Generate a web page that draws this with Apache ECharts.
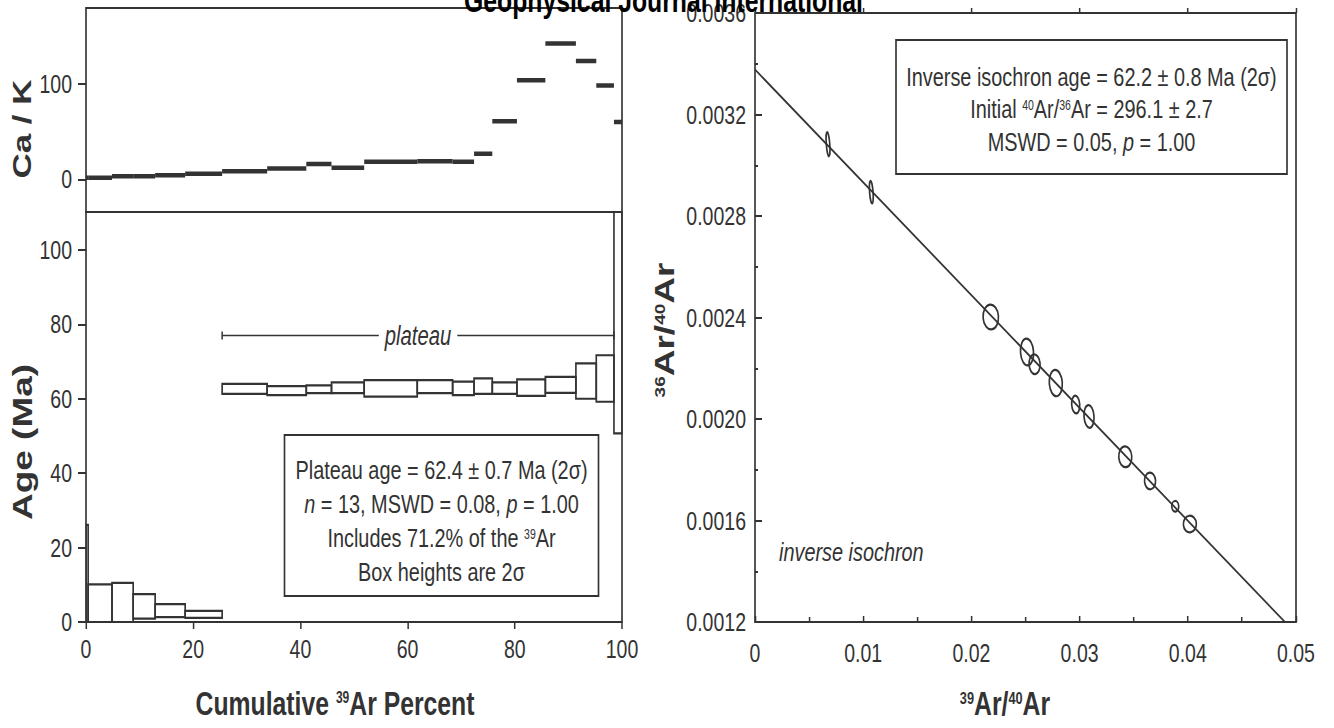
<!DOCTYPE html>
<html>
<head>
<meta charset="utf-8">
<style>
  html, body { margin: 0; padding: 0; background: #fff; overflow: hidden; }
  #main { width: 1778px; height: 728px; transform-origin: 0 0; }
</style>
<script src="https://cdn.jsdelivr.net/npm/echarts@6.0.0/dist/echarts.min.js"></script>
</head>
<body>
<div id="main"></div>
<script>
// step boundaries (cumulative 39Ar %), shared by the Ca/K and the age spectrum
var cumPct = [0, 0.4, 4.85, 8.8, 12.9, 18.5, 25.4, 33.8, 41.1, 45.8, 51.9, 61.8, 68.4, 72.4, 75.8, 80.4, 85.7, 91.4, 95.2, 98.5, 100];
var ageLow = [0, 0, 0, 0.9, 1.3, 1.1, 61.3, 61.0, 61.5, 61.5, 60.6, 61.5, 61.0, 61.3, 61.3, 60.8, 61.6, 60.0, 59.2, 50.7];
var ageHigh = [26.1, 10.1, 10.5, 7.5, 4.8, 3.0, 64.0, 63.4, 63.6, 64.4, 65.0, 65.0, 64.6, 65.5, 64.4, 65.2, 65.9, 69.5, 71.7, 140];
var caK = [1.8, 1.8, 3.4, 3.4, 4.5, 5.9, 8.6, 11.5, 16, 12.2, 18.4, 19, 18.4, 26.7, 60.8, 103.5, 142, 123.6, 98, 60];
var plateauRange = [25.4, 98.5];
var plateauLevel = 77;

var pctTicks = [0, 20, 40, 60, 80, 100];
var ageTicks = [0, 20, 40, 60, 80, 100];
var caTicks = [0, 100];

// inverse isochron points (39/40, 36/40) and ellipse half sizes
var isoX = [0.00675, 0.01075, 0.02179, 0.02514, 0.02584, 0.0278, 0.02964, 0.03087, 0.03422, 0.03651, 0.03884, 0.04019];
var isoY = [0.003083, 0.002894, 0.002402, 0.002264, 0.002216, 0.0021415, 0.002057, 0.00201, 0.001851, 0.001756, 0.001656, 0.001586];
var isoErrX = [0.00016, 0.00016, 0.00071, 0.0006, 0.00051, 0.0006, 0.00037, 0.00046, 0.0006, 0.00051, 0.00032, 0.0006];
var isoErrY = [0.000048, 0.000045, 0.000049, 0.000053, 0.000039, 0.000052, 0.000035, 0.000045, 0.000041, 0.000033, 0.000021, 0.000033];
var isoFit = [[0, 0.003377], [0.04898, 0.0012]];

// the figure is a horizontally squeezed Arial drawing: draw wide, squeeze with css
var K = 1334 / 1778;
function px(x) { return x / K; }
document.getElementById('main').style.transform = 'scaleX(' + K + ')';

var ink = '#333';
var font = "'Liberation Sans', Arial, sans-serif";

var stepData = cumPct.slice(1).map(function (x1, i) { return [cumPct[i], x1, ageLow[i], ageHigh[i]]; });
var caData = cumPct.slice(1).map(function (x1, i) { return [cumPct[i], x1, caK[i]]; });
var isoData = isoX.map(function (x, i) { return [x, isoY[i], isoErrX[i], isoErrY[i]]; });

var chart = echarts.init(document.getElementById('main'), null, { renderer: 'svg' });

var labelStyle = { fontFamily: font, fontSize: 26, color: ink };
var tickStyle = { color: ink, width: 2 };
var frame = { show: true, borderColor: ink, borderWidth: 2.2, backgroundColor: 'transparent' };

var t = { fontFamily: font, fontSize: 26.5, lineHeight: 34, fill: ink };
var it = { fontFamily: font, fontSize: 26.5, lineHeight: 34, fontStyle: 'italic', fill: ink };
var sup = { fontFamily: font, fontSize: 14, lineHeight: 14, verticalAlign: 'top', padding: [6, 0, 0, 0], fill: ink };

function txt(x, y, style, rot) {
  style.align = style.align || 'center';
  style.textAlign = style.align;
  style.verticalAlign = 'middle';
  style.textVerticalAlign = 'middle';
  if (!style.fill) style.fill = ink;
  return { type: 'text', x: px(x), y: y, rotation: rot || 0, z: 100, style: style };
}

var option = {
  animation: false,
  grid: [
    Object.assign({ left: px(86), top: 8, width: px(536), height: 204 }, frame),
    Object.assign({ left: px(86), top: 212, width: px(536), height: 410 }, frame),
    Object.assign({ left: px(755), top: 8, width: px(541), height: 614 }, frame)
  ],
  xAxis: [
    { gridIndex: 0, type: 'value', min: 0, max: 100, axisLine: { show: false }, axisTick: { show: false }, axisLabel: { show: false }, splitLine: { show: false } },
    { gridIndex: 1, type: 'value', min: 0, max: 100, axisLine: { show: false },
      axisTick: { customValues: pctTicks, length: 7, lineStyle: tickStyle },
      axisLabel: Object.assign({ customValues: pctTicks, margin: 14 }, labelStyle),
      splitLine: { show: false } },
    { gridIndex: 2, type: 'value', min: 0, max: 0.05, interval: 0.01, axisLine: { show: false },
      axisTick: { inside: true, length: 6, lineStyle: tickStyle },
      minorTick: { show: true, splitNumber: 2, length: 5, lineStyle: tickStyle },
      axisLabel: Object.assign({ margin: 18, formatter: function (v) { return v === 0 ? '0' : v.toFixed(2); } }, labelStyle),
      splitLine: { show: false } },
    { gridIndex: 2, type: 'value', min: 0, max: 0.05, interval: 0.01, axisLine: { show: false },
      axisTick: { length: 5, lineStyle: tickStyle }, axisLabel: { show: false }, splitLine: { show: false } }
  ],
  yAxis: [
    { gridIndex: 0, type: 'value', min: -34, max: 179, axisLine: { show: false },
      axisTick: { customValues: caTicks, length: px(8), lineStyle: tickStyle },
      axisLabel: Object.assign({ customValues: caTicks, margin: px(14) }, labelStyle),
      splitLine: { show: false } },
    { gridIndex: 1, type: 'value', min: 0, max: 110.2, axisLine: { show: false },
      axisTick: { customValues: ageTicks, length: px(8), lineStyle: tickStyle },
      axisLabel: Object.assign({ customValues: ageTicks, margin: px(14) }, labelStyle),
      splitLine: { show: false } },
    { gridIndex: 2, type: 'value', min: 0.0012, max: 0.0036, interval: 0.0004, axisLine: { show: false },
      axisTick: { inside: true, length: px(4), lineStyle: tickStyle },
      minorTick: { show: true, splitNumber: 2, length: px(3), lineStyle: tickStyle },
      axisLabel: Object.assign({ margin: px(9), formatter: function (v) { return v.toFixed(4); } }, labelStyle),
      splitLine: { show: false } },
    { gridIndex: 2, type: 'value', min: 0.0012, max: 0.0036, interval: 0.0004, axisLine: { show: false },
      axisTick: { length: px(7), lineStyle: tickStyle }, axisLabel: { show: false }, splitLine: { show: false } }
  ],
  series: [
    {
      name: 'Ca/K', type: 'custom', xAxisIndex: 0, yAxisIndex: 0, clip: true,
      data: caData, encode: { x: [0, 1], y: 2 },
      renderItem: function (params, api) {
        var a = api.coord([api.value(0), api.value(2)]);
        var b = api.coord([api.value(1), api.value(2)]);
        return { type: 'line', shape: { x1: a[0], y1: a[1], x2: b[0], y2: b[1] }, style: { stroke: ink, lineWidth: 4.5 } };
      }
    },
    {
      name: 'age', type: 'custom', xAxisIndex: 1, yAxisIndex: 1, clip: true,
      data: stepData, encode: { x: [0, 1], y: [2, 3] },
      renderItem: function (params, api) {
        var a = api.coord([api.value(0), api.value(3)]);
        var b = api.coord([api.value(1), api.value(2)]);
        return { type: 'rect', shape: { x: a[0], y: a[1], width: b[0] - a[0], height: b[1] - a[1] },
          style: { fill: 'none', stroke: ink, lineWidth: 2.2 } };
      }
    },
    {
      name: 'plateau', type: 'custom', xAxisIndex: 1, yAxisIndex: 1,
      data: [[plateauRange[0], plateauRange[1], plateauLevel]], encode: { x: [0, 1], y: 2 },
      renderItem: function (params, api) {
        var a = api.coord([api.value(0), api.value(2)]);
        var b = api.coord([api.value(1), api.value(2)]);
        var mid = (a[0] + b[0]) / 2;
        return { type: 'group', children: [
          { type: 'line', shape: { x1: a[0], y1: a[1], x2: b[0], y2: b[1] }, style: { stroke: ink, lineWidth: 1.6 } },
          { type: 'line', shape: { x1: a[0], y1: a[1] - 4, x2: a[0], y2: a[1] + 4 }, style: { stroke: ink, lineWidth: 2 } },
          { type: 'line', shape: { x1: b[0], y1: b[1] - 4, x2: b[0], y2: b[1] + 4 }, style: { stroke: ink, lineWidth: 2 } },
          { type: 'text', x: mid, y: a[1], style: { text: 'plateau', fontFamily: font, fontSize: 27, fontStyle: 'italic',
            fill: ink, align: 'center', verticalAlign: 'middle', backgroundColor: '#fff', padding: [0, 8] } }
        ] };
      }
    },
    {
      name: 'fit', type: 'line', xAxisIndex: 2, yAxisIndex: 2, data: isoFit, symbol: 'none', silent: true,
      lineStyle: { color: ink, width: 2 }
    },
    {
      name: 'steps', type: 'custom', xAxisIndex: 2, yAxisIndex: 2,
      data: isoData, encode: { x: 0, y: 1 },
      renderItem: function (params, api) {
        var c = api.coord([api.value(0), api.value(1)]);
        var s = api.size([api.value(2), api.value(3)]);
        return { type: 'ellipse', x: c[0], y: c[1], rotation: 0.1,
          shape: { cx: 0, cy: 0, rx: s[0], ry: s[1] },
          style: { fill: 'none', stroke: ink, lineWidth: 2.2 } };
      }
    }
  ],
  graphic: [
    { type: 'rect', z: 90, shape: { x: px(284.5), y: 435, width: px(314), height: 161 }, style: { fill: '#fff', stroke: ink, lineWidth: 2.2 } },
    txt(441.5, 521, {
      text: '{t|Plateau age = 62.4 ± 0.7 Ma (2σ)}\n{i|n}{t| = 13, MSWD = 0.08, }{i|p}{t| = 1.00}\n{t|Includes 71.2% of the }{s|39}{t|Ar}\n{t|Box heights are 2σ}',
      rich: { t: t, i: it, s: sup }
    }),
    { type: 'rect', z: 90, shape: { x: px(896), y: 40, width: px(391), height: 134 }, style: { fill: '#fff', stroke: ink, lineWidth: 2.2 } },
    txt(1091.5, 109, {
      text: '{t|Inverse isochron age = 62.2 ± 0.8 Ma (2σ)}\n{t|Initial }{s|40}{t|Ar/}{s|36}{t|Ar = 296.1 ± 2.7}\n{t|MSWD = 0.05, }{i|p}{t| = 1.00}',
      rich: { t: Object.assign({}, t, { lineHeight: 32.5 }), i: Object.assign({}, it, { lineHeight: 32.5 }), s: sup }
    }),
    txt(779, 552, { text: 'inverse isochron', fontFamily: font, fontSize: 26.5, fontStyle: 'italic', align: 'left' }),
    txt(22.5, 129, { text: 'Ca / K', fontFamily: font, fontSize: 35, fontWeight: 'bold' }, Math.PI / 2),
    txt(22.5, 442, { text: 'Age (Ma)', fontFamily: font, fontSize: 37, fontWeight: 'bold' }, Math.PI / 2),
    txt(664, 330, {
      text: '{s|36}{b|Ar/}{s|40}{b|Ar}',
      rich: {
        b: { fontFamily: font, fontSize: 37, fontWeight: 'bold', lineHeight: 42, fill: ink },
        s: { fontFamily: font, fontSize: 19, fontWeight: 'bold', lineHeight: 19, verticalAlign: 'top', padding: [6, 0, 0, 0], fill: ink }
      }
    }, Math.PI / 2),
    txt(335, 704, {
      text: '{b|Cumulative }{s|39}{b|Ar Percent}',
      rich: {
        b: { fontFamily: font, fontSize: 33, fontWeight: 'bold', lineHeight: 38, fill: ink },
        s: { fontFamily: font, fontSize: 16, fontWeight: 'bold', lineHeight: 16, verticalAlign: 'top', padding: [4, 0, 0, 0], fill: ink }
      }
    }),
    txt(1005, 704, {
      text: '{s|39}{b|Ar/}{s|40}{b|Ar}',
      rich: {
        b: { fontFamily: font, fontSize: 33, fontWeight: 'bold', lineHeight: 38, fill: ink },
        s: { fontFamily: font, fontSize: 17, fontWeight: 'bold', lineHeight: 17, verticalAlign: 'top', padding: [4, 0, 0, 0], fill: ink }
      }
    }),
    txt(663.5, 1, { text: 'Geophysical Journal International', fontFamily: font, fontSize: 33, fontWeight: 'bold', fill: '#000' })
  ]
};

chart.setOption(option);
</script>
</body>
</html>
